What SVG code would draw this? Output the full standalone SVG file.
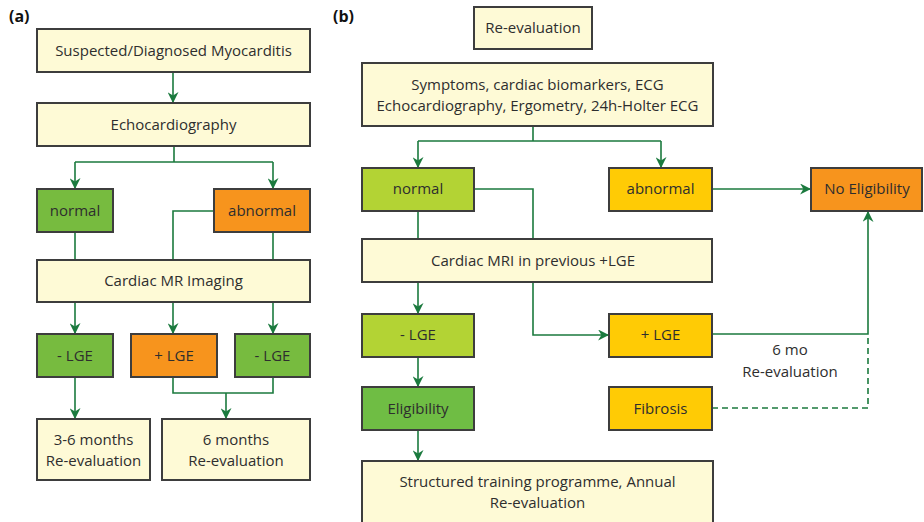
<svg xmlns="http://www.w3.org/2000/svg" width="924" height="522" viewBox="0 0 924 522">
<defs>
<marker id="ah" viewBox="0 0 10 10" refX="9" refY="5" markerWidth="11" markerHeight="11" markerUnits="userSpaceOnUse" orient="auto">
<path d="M0,0 L10,5 L0,10 L3,5 Z" fill="#1b7a3e"/>
</marker>
</defs>
<style>
text{font-family:"Open Sans","Liberation Sans",sans-serif;font-size:15px;fill:#2e2e2e;text-anchor:middle}
.lbl{font-weight:bold;font-size:16px;fill:#111;text-anchor:start}
.box{stroke:#3d3d3d;stroke-width:2}
.cream{fill:#fefad6}
.green{fill:#77bb3f}
.lime{fill:#b3d334}
.elig{fill:#6fbd44}
.orange{fill:#f7941d}
.yellow{fill:#ffcb05}
#connectors path{fill:none;stroke:#1b7a3e;stroke-width:1.6}
#connectors .arr{marker-end:url(#ah)}
#connectors .dash{stroke-dasharray:6 4}
</style>
<rect width="924" height="522" fill="#fff"/>
<text class="lbl" x="9" y="22">(a)</text>
<text class="lbl" x="333" y="22">(b)</text>

<g id="connectors">
<path class="arr" d="M173,72 V102"/>
<path d="M174,146 V162 M75,162 H273"/>
<path class="arr" d="M75,162 V188"/>
<path class="arr" d="M273,162 V188"/>
<path d="M75,232 V260 M214,211 H173 V260 M273,232 V260"/>
<path class="arr" d="M75,302 V333"/>
<path class="arr" d="M173,302 V333"/>
<path class="arr" d="M273,302 V333"/>
<path class="arr" d="M75,377 V418"/>
<path d="M173,377 V393 H273 V377"/>
<path class="arr" d="M226,393 V418"/>

<path d="M533,126 V141 M418,141 H661"/>
<path class="arr" d="M418,141 V167"/>
<path class="arr" d="M661,141 V167"/>
<path class="arr" d="M712,189 H810"/>
<path d="M474,189 H533 V239 M418,211 V239"/>
<path class="arr" d="M418,282 V313"/>
<path class="arr" d="M533,282 V335 H608"/>
<path class="arr" d="M712,334 H868 V212"/>
<path class="dash" d="M712,408 H868 V336"/>
<path class="arr" d="M418,357 V386"/>
<path class="arr" d="M418,430 V460"/>
</g>

<g id="a-suspected"><rect class="box cream" x="37" y="29" width="273" height="43"/><text x="173.5" y="56">Suspected/Diagnosed Myocarditis</text></g>
<g id="a-echo"><rect class="box cream" x="37" y="103" width="273" height="43"/><text x="173.5" y="130">Echocardiography</text></g>
<g id="a-normal"><rect class="box green" x="37" y="189" width="76" height="43"/><text x="75" y="216">normal</text></g>
<g id="a-abnormal"><rect class="box orange" x="214" y="189" width="96" height="43"/><text x="262" y="216">abnormal</text></g>
<g id="a-cmr"><rect class="box cream" x="37" y="260" width="273" height="42"/><text x="173.5" y="286">Cardiac MR Imaging</text></g>
<g id="a-lge-neg1"><rect class="box green" x="37" y="334" width="76" height="43"/><text x="75" y="361">- LGE</text></g>
<g id="a-lge-pos"><rect class="box orange" x="131" y="334" width="86" height="43"/><text x="174" y="361">+ LGE</text></g>
<g id="a-lge-neg2"><rect class="box green" x="235" y="334" width="75" height="43"/><text x="272.5" y="361">- LGE</text></g>
<g id="a-re36"><rect class="box cream" x="37" y="419" width="113" height="61"/><text x="93.5" y="445">3-6 months</text><text x="93.5" y="466">Re-evaluation</text></g>
<g id="a-re6"><rect class="box cream" x="162" y="419" width="148" height="61"/><text x="236" y="445">6 months</text><text x="236" y="466">Re-evaluation</text></g>

<g id="b-reeval"><rect class="box cream" x="474" y="7" width="118" height="42"/><text x="533" y="33">Re-evaluation</text></g>
<g id="b-symptoms"><rect class="box cream" x="362" y="63" width="351" height="63"/><text x="537.5" y="90">Symptoms, cardiac biomarkers, ECG</text><text x="537.5" y="111">Echocardiography, Ergometry, 24h-Holter ECG</text></g>
<g id="b-normal"><rect class="box lime" x="362" y="168" width="112" height="43"/><text x="418" y="194">normal</text></g>
<g id="b-abnormal"><rect class="box yellow" x="609" y="168" width="103" height="43"/><text x="660.5" y="194">abnormal</text></g>
<g id="b-noelig"><rect class="box orange" x="811" y="168" width="111" height="43"/><text x="867" y="194">No Eligibility</text></g>
<g id="b-cmri"><rect class="box cream" x="362" y="239" width="350" height="43"/><text x="533" y="266">Cardiac MRI in previous +LGE</text></g>
<g id="b-lge-neg"><rect class="box lime" x="362" y="314" width="112" height="43"/><text x="418" y="340">- LGE</text></g>
<g id="b-lge-pos"><rect class="box yellow" x="609" y="314" width="103" height="43"/><text x="660.5" y="340">+ LGE</text></g>
<g id="b-6mo"><text x="790" y="355">6 mo</text><text x="790" y="377">Re-evaluation</text></g>
<g id="b-elig"><rect class="box elig" x="362" y="387" width="112" height="43"/><text x="418" y="414">Eligibility</text></g>
<g id="b-fibrosis"><rect class="box yellow" x="609" y="387" width="103" height="43"/><text x="660.5" y="414">Fibrosis</text></g>
<g id="b-training"><rect class="box cream" x="362" y="461" width="351" height="70"/><text x="537.5" y="487">Structured training programme, Annual</text><text x="537.5" y="508">Re-evaluation</text></g>
</svg>
